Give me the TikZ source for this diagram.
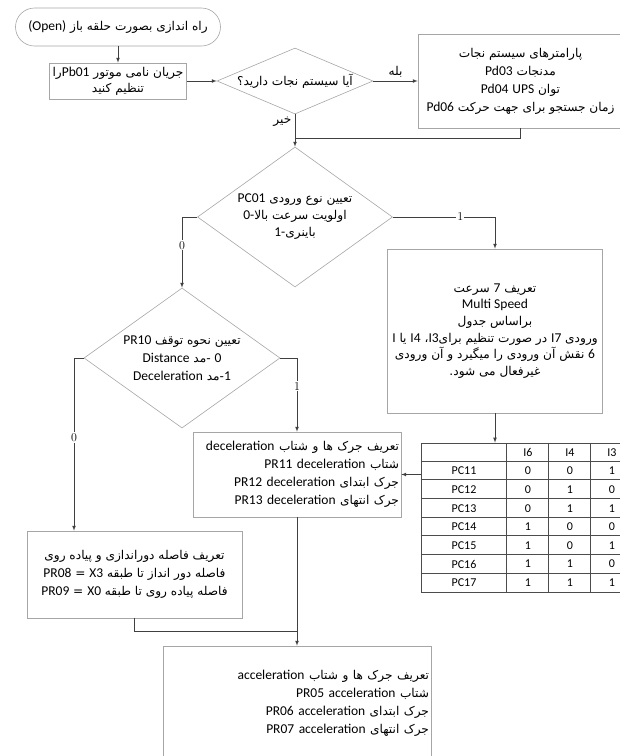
\documentclass[tikz,border=0pt]{standalone}
\usepackage{fontspec}
\setmainfont{Carlito}
\newfontfamily\fa[Script=Arabic,Scale=0.9]{DejaVu Sans}
\newfontfamily\lm{Latin Modern Roman}
\TeXXeTstate=1
\usetikzlibrary{shapes.geometric}
\newcommand{\rl}[1]{\mbox{\fa\beginR#1\endR}}
\newcommand{\lat}[1]{\beginL{\normalfont#1}\endL}

\begin{document}
\begin{tikzpicture}[x=1pt,y=-1pt,
        blk/.style={draw=black!35, line width=0.6pt, inner sep=2pt, align=center, font=\fontsize{13.5}{18}\selectfont},
        dmd/.style={blk, diamond, inner sep=0pt},
        conn/.style={draw=black!75, line width=0.7pt},
        arr/.style={conn, -latex},
        lbl/.style={font=\lm\fontsize{12}{14}\selectfont, fill=white, inner sep=1pt},
        cell/.style={font=\fontsize{12}{14}\selectfont},
        tblline/.style={draw=black!70, line width=0.8pt}]
    \useasboundingbox (0,0) rectangle (620,756);

    \node[blk, rounded corners=19pt, minimum width=205pt, minimum height=38pt] (start) at (118,27) {\rl{راه اندازی بصورت حلقه باز \lat{(Open)}}};
    \node[blk, minimum width=137pt, minimum height=36pt, font=\fontsize{13.5}{16}\selectfont] (motor) at (118,81) {\rl{جریان نامی موتور \lat{Pb01}را}\\\rl{تنظیم کنید}};
    \node[dmd, aspect=2.36, minimum width=156pt, minimum height=66pt] (rescue) at (295,81) {\rl{آیا سیستم نجات دارید؟}};
    \node[blk, minimum width=205pt, minimum height=94pt] (params) at (520.5,81) {\rl{پارامترهای سیستم نجات}\\\rl{مدنجات \lat{Pd03}}\\\rl{توان \lat{UPS} \lat{Pd04}}\\\rl{زمان جستجو برای جهت حرکت \lat{Pd06}}};

    \node[dmd, aspect=1.39, minimum width=195pt, minimum height=140pt, font=\fontsize{13.5}{17}\selectfont] (input) at (295,217) {\rl{تعیین نوع ورودی \lat{PC01}}\\\rl{اولویت سرعت بالا\lat{0-}}\\\rl{باینری\lat{1-}}};
    \node[blk, minimum width=215pt, minimum height=164pt, font=\fontsize{13.5}{16.7}\selectfont] (speed) at (495,331) {\rl{تعریف \lat{7} سرعت}\\Multi Speed\\\rl{براساس جدول}\\\rl{ورودی \lat{I7} در صورت تنظیم برای\lat{I3}، \lat{I4} یا \lat{I}}\\\rl{\lat{6} نقش آن ورودی را میگیرد و آن ورودی}\\\rl{غیرفعال می شود.}};

    % table of speeds
    \node[tblline, minimum width=212pt, minimum height=149pt, inner sep=0pt] (tbl) at (527,517.5) {};
    \foreach \k in {1,...,7}
        \draw[tblline] ([yshift=-\k*18.625pt]tbl.north west) -- ++(212,0);
    \foreach \c in {86,128,170}
        \draw[tblline] ([xshift=\c pt]tbl.north west) -- ++(0,149);
    \foreach \t [count=\i] in {I6,I4,I3}
        \node[cell] (h\i) at ({486+42*\i},452.3) {\t};
    \foreach \a/\b/\c [count=\r] in {0/0/1,0/1/0,0/1/1,1/0/0,1/0/1,1/1/0,1/1/1} {
        \node[cell] (p\r) at (464,{443+18.625*(\r+0.5)}) {PC1\r};
        \node[cell] (a\r) at (528,{443+18.625*(\r+0.5)}) {\a};
        \node[cell] (b\r) at (570,{443+18.625*(\r+0.5)}) {\b};
        \node[cell] (c\r) at (612,{443+18.625*(\r+0.5)}) {\c};
    }

    \node[dmd, aspect=1.4, minimum width=196pt, minimum height=140pt] (stop) at (182,358) {\rl{تعیین نحوه توقف \lat{PR10}}\\\rl{\lat{0} -\kern0pt مد \lat{Distance}}\\\rl{\lat{1}-\kern0pt مد \lat{Deceleration}}};
    \node[blk, minimum width=208pt, minimum height=85pt, text width=204pt, align=right] (decel) at (297,474.5) {\rl{تعریف جرک ها و شتاب \lat{deceleration}}\\\rl{شتاب \lat{deceleration} \lat{PR11}}\\\rl{جرک ابتدای \lat{deceleration} \lat{PR12}}\\\rl{جرک انتهای \lat{deceleration} \lat{PR13}}};
    \node[blk, minimum width=215pt, minimum height=87pt] (dist) at (134.5,574.5) {\rl{تعریف فاصله دوراندازی و پیاده روی}\\\rl{فاصله دور انداز تا طبقه \lat{X3} = \lat{PR08}}\\\rl{فاصله پیاده روی تا طبقه \lat{X0} = \lat{PR09}}};
    \node[blk, minimum width=268pt, minimum height=114pt, text width=264pt, align=right] (accel) at (297,703) {\rl{تعریف جرک ها و شتاب \lat{acceleration}}\\\rl{شتاب \lat{acceleration} \lat{PR05}}\\\rl{جرک ابتدای \lat{acceleration} \lat{PR06}}\\\rl{جرک انتهای \lat{acceleration} \lat{PR07}}};

    \coordinate (join1) at (295,138);
    \coordinate (join2) at (297,631);

    \draw[arr] (start) -- (motor);
    \draw[arr] (motor) -- (rescue);
    \draw[arr] (rescue) -- node[above, font=\fontsize{13.5}{15}\selectfont] (yes) {\rl{بله}} (params);
    \draw[arr] (rescue.south) -- node[left, pos=0.22, font=\fontsize{13.5}{15}\selectfont] (no) {\rl{خیر}} (input.north);
    \draw[conn] (params.south) |- (join1);
    \draw[arr] (input.west) -| node[lbl, pos=0.7] (zero1) {0} (stop.north);
    \draw[arr] (input.east) -| node[lbl, pos=0.33] (one1) {1} (speed.north);
    \draw[arr] (speed.south) -- (speed.south |- tbl.north);
    \draw[arr] (tbl.west |- decel.east) -- (decel.east);
    \draw[arr] (stop.east) -| node[lbl, pos=0.69] (one2) {1} (decel.north);
    \draw[arr] (stop.west) -| node[lbl, pos=0.73] (zero2) {0} ([xshift=-60.5pt]dist.north);
    \draw[conn] (dist.south) |- (join2);
    \draw[arr] (decel.south) -- (accel.north);
\end{tikzpicture}
\end{document}
